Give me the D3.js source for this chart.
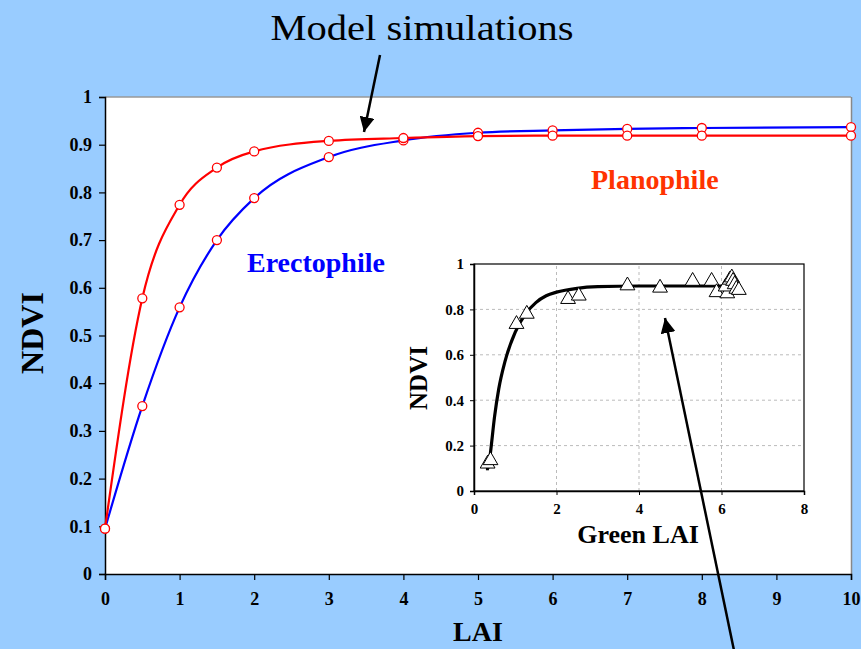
<!DOCTYPE html>
<html><head><meta charset="utf-8">
<script src="https://cdn.jsdelivr.net/npm/d3@7"></script>
<style>
html,body{margin:0;padding:0;background:#99CCFF;}
svg{display:block;}
text{font-family:"Liberation Serif","Times New Roman",serif;}
</style></head>
<body>
<script>
// ---- Data ----
const laiValues = [0, 0.5, 1, 1.5, 2, 3, 4, 5, 6, 7, 8, 10];
const planophileNDVI = [0.095, 0.578, 0.774, 0.852, 0.886, 0.908, 0.914, 0.918, 0.919, 0.919, 0.919, 0.919];
const erectophileNDVI = [0.095, 0.352, 0.559, 0.700, 0.788, 0.874, 0.909, 0.925, 0.930, 0.933, 0.935, 0.937];
const mainYTicks = [0, 0.1, 0.2, 0.3, 0.4, 0.5, 0.6, 0.7, 0.8, 0.9, 1];
const mainXTicks = [0, 1, 2, 3, 4, 5, 6, 7, 8, 9, 10];

const insetCurveLAI  = [0.35, 0.4, 0.5, 0.6, 0.75, 1.0, 1.25, 1.5, 1.75, 2.0, 2.5, 3.0, 4.0, 5.0, 6.2];
const insetCurveNDVI = [0.10, 0.17, 0.33, 0.45, 0.57, 0.70, 0.78, 0.83, 0.86, 0.876, 0.893, 0.900, 0.903, 0.903, 0.903];
const insetObsLAI  = [0.33, 0.40, 1.03, 1.28, 2.28, 2.54, 3.72, 4.51, 5.30, 5.76, 5.88, 6.14, 6.10, 6.20, 6.25, 6.28, 6.32, 6.36, 6.42];
const insetObsNDVI = [0.12, 0.135, 0.735, 0.78, 0.845, 0.86, 0.905, 0.895, 0.925, 0.925, 0.875, 0.870, 0.900, 0.930, 0.940, 0.925, 0.910, 0.890, 0.885];
const insetYTicks = [0, 0.2, 0.4, 0.6, 0.8, 1];
const insetXTicks = [0, 2, 4, 6, 8];

const W = 861, H = 649;
const svg = d3.select("body").append("svg").attr("width", W).attr("height", H);
svg.append("rect").attr("width", W).attr("height", H).attr("fill", "#99CCFF");

// ---- Main chart ----
const x = d3.scaleLinear().domain([0, 10]).range([105, 851]);
const y = d3.scaleLinear().domain([0, 1]).range([574, 97]);

svg.append("rect").attr("x", x(0)).attr("y", y(1)).attr("width", x(10) - x(0)).attr("height", y(0) - y(1)).attr("fill", "#fff");
svg.append("line").attr("x1", x(0)).attr("x2", x(10)).attr("y1", y(1)).attr("y2", y(1)).attr("stroke", "#999").attr("stroke-width", 1.5);
svg.append("line").attr("x1", x(10)+0.5).attr("x2", x(10)+0.5).attr("y1", y(1)).attr("y2", y(0)).attr("stroke", "#888").attr("stroke-width", 1.5);

const yAxis = svg.append("g").attr("transform", `translate(${x(0)},0)`)
  .call(d3.axisLeft(y).tickValues(mainYTicks).tickSize(6).tickPadding(7).tickFormat(d => d === 0 || d === 1 ? d3.format("d")(d) : d3.format(".1f")(d)));
const xAxis = svg.append("g").attr("transform", `translate(0,${y(0)})`)
  .call(d3.axisBottom(x).tickValues(mainXTicks).tickSize(6).tickPadding(12).tickFormat(d3.format("d")));
[yAxis, xAxis].forEach(g => {
  g.selectAll("path.domain").attr("stroke", "#000").attr("stroke-width", 1.5);
  g.selectAll(".tick line").attr("stroke", "#000").attr("stroke-width", 1.2);
  g.selectAll("text").attr("font-family", "Liberation Serif").attr("font-weight", "bold").attr("font-size", 18).attr("fill", "#000");
});

const line = d3.line().x(d => x(d[0])).y(d => y(d[1])).curve(d3.curveMonotoneX);
const plano = laiValues.map((v, i) => [v, planophileNDVI[i]]);
const erecto = laiValues.map((v, i) => [v, erectophileNDVI[i]]);
svg.append("path").datum(erecto).attr("d", line).attr("fill", "none").attr("stroke", "#0000FF").attr("stroke-width", 2.2);
svg.append("path").datum(plano).attr("d", line).attr("fill", "none").attr("stroke", "#FF0000").attr("stroke-width", 2.2);
[erecto, plano].forEach(s => {
  svg.append("g").selectAll("circle").data(s).join("circle")
    .attr("cx", d => x(d[0])).attr("cy", d => y(d[1])).attr("r", 4.5)
    .attr("fill", "#fff").attr("stroke", "#FF0000").attr("stroke-width", 1.3);
});

svg.append("text").attr("x", 478).attr("y", 641).attr("text-anchor", "middle")
  .attr("font-weight", "bold").attr("font-size", 28).text("LAI");
svg.append("text").attr("transform", "translate(43,333) rotate(-90)").attr("text-anchor", "middle")
  .attr("font-weight", "bold").attr("font-size", 32).text("NDVI");

svg.append("text").attr("x", 591).attr("y", 189).attr("font-weight", "bold").attr("font-size", 28).attr("fill", "#FF3300").text("Planophile");
svg.append("text").attr("x", 247).attr("y", 272).attr("font-weight", "bold").attr("font-size", 28).attr("fill", "#0000FF").text("Erectophile");

svg.append("text").attr("x", 422).attr("y", 40).attr("text-anchor", "middle").attr("font-size", 36)
  .attr("textLength", 303).attr("lengthAdjust", "spacingAndGlyphs").text("Model simulations");

// arrowhead marker
const defs = svg.append("defs");
defs.append("marker").attr("id", "ah").attr("viewBox", "0 0 10 10").attr("refX", 10).attr("refY", 5)
  .attr("markerWidth", 6).attr("markerHeight", 6).attr("markerUnits", "strokeWidth").attr("orient", "auto")
  .append("path").attr("d", "M0,0 L10,5 L0,10 Z").attr("fill", "#000");

svg.append("line").attr("x1", 380).attr("y1", 55).attr("x2", 364).attr("y2", 132)
  .attr("stroke", "#000").attr("stroke-width", 2.5).attr("marker-end", "url(#ah)");

// ---- Inset ----
const ix = d3.scaleLinear().domain([0, 8]).range([474, 804]);
const iy = d3.scaleLinear().domain([0, 1]).range([491, 264]);
const inset = svg.append("g");
inset.append("g").selectAll("line").data(insetXTicks.filter(d => d > 0 && d < 8)).join("line")
  .attr("x1", d => ix(d)).attr("x2", d => ix(d)).attr("y1", iy(0)).attr("y2", iy(1))
  .attr("stroke", "#bbb").attr("stroke-dasharray", "3,3").attr("stroke-width", 1);
inset.append("g").selectAll("line").data(insetYTicks.filter(d => d > 0 && d < 1)).join("line")
  .attr("x1", ix(0)).attr("x2", ix(8)).attr("y1", d => iy(d)).attr("y2", d => iy(d))
  .attr("stroke", "#bbb").attr("stroke-dasharray", "3,3").attr("stroke-width", 1);
inset.append("rect").attr("x", ix(0)).attr("y", iy(1)).attr("width", ix(8) - ix(0)).attr("height", iy(0) - iy(1))
  .attr("fill", "none").attr("stroke", "#000").attr("stroke-width", 1.2);
const iyAxis = inset.append("g").attr("transform", `translate(${ix(0)},0)`)
  .call(d3.axisLeft(iy).tickValues(insetYTicks).tickSize(4).tickPadding(6).tickFormat(d => d === 0 || d === 1 ? d3.format("d")(d) : d3.format(".1f")(d)));
const ixAxis = inset.append("g").attr("transform", `translate(0,${iy(0)})`)
  .call(d3.axisBottom(ix).tickValues(insetXTicks).tickSize(4).tickPadding(8).tickFormat(d3.format("d")));
[iyAxis, ixAxis].forEach(g => {
  g.selectAll("path.domain").attr("stroke", "#000").attr("stroke-width", 1.5);
  g.selectAll(".tick line").attr("stroke", "#000");
  g.selectAll("text").attr("font-family", "Liberation Serif").attr("font-weight", "bold").attr("font-size", 15).attr("fill", "#000");
});

const iline = d3.line().x(d => ix(d[0])).y(d => iy(d[1])).curve(d3.curveMonotoneX);
const icurve = insetCurveLAI.map((v, i) => [v, insetCurveNDVI[i]]);
inset.append("path").datum(icurve).attr("d", iline)
  .attr("fill", "none").attr("stroke", "#000").attr("stroke-width", 3.2);
inset.append("rect").attr("x", ix(insetCurveLAI[0]) - 2.5).attr("y", iy(insetCurveNDVI[0]) - 1).attr("width", 3).attr("height", 3).attr("fill", "#000");
const tri = d3.symbol().type(d3.symbolTriangle).size(95);
inset.append("g").selectAll("path").data(insetObsLAI.map((v, i) => [v, insetObsNDVI[i]])).join("path")
  .attr("d", tri).attr("transform", d => `translate(${ix(d[0])},${iy(d[1])})`)
  .attr("fill", "#fff").attr("stroke", "#000").attr("stroke-width", 1);

inset.append("text").attr("x", 638).attr("y", 543).attr("text-anchor", "middle")
  .attr("font-weight", "bold").attr("font-size", 26).text("Green LAI");
inset.append("text").attr("transform", "translate(427,378) rotate(-90)").attr("text-anchor", "middle")
  .attr("font-weight", "bold").attr("font-size", 25).text("NDVI");

// big arrow
svg.append("line").attr("x1", 736).attr("y1", 660).attr("x2", 665).attr("y2", 318)
  .attr("stroke", "#000").attr("stroke-width", 2.5).attr("marker-end", "url(#ah)");
</script>
</body></html>
